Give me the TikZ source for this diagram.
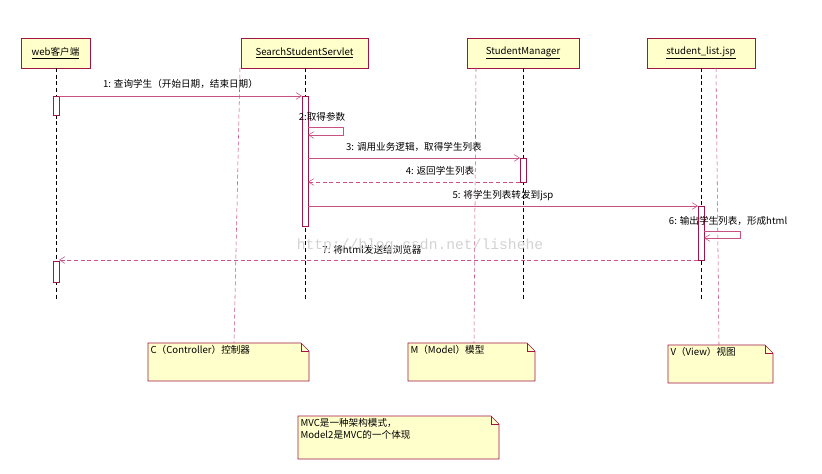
\documentclass[tikz,border=0pt]{standalone}
\usepackage{fontspec}
\setmainfont{Noto Sans CJK SC}
\newfontfamily\wmfont{Liberation Mono}
\usetikzlibrary{arrows.meta, shapes.misc}
\definecolor{umlred}{RGB}{160,20,70}
\definecolor{umlpink}{RGB}{200,80,130}
\definecolor{umlfill}{RGB}{255,255,204}

\begin{document}
\begin{tikzpicture}[x=0.75pt, y=-0.75pt, font=\fontsize{7.2}{9}\selectfont]
  \tikzset{
    obj/.style = {draw=umlred, fill=umlfill, minimum height=22.5pt, inner sep=0pt},
    act/.style = {draw=umlred, fill=white},
    msg/.style = {umlpink, -{Straight Barb[length=4pt, width=5pt]}},
    ret/.style = {msg, densely dashed},
    life/.style = {densely dashed, thin},
    link/.style = {umlpink, densely dashed, thin},
    note/.style = {draw=umlred, fill=umlfill}
  }
  \useasboundingbox (0, 0) rectangle (822, 474);

  % 对象
  \node[obj, minimum width=51.75pt] (web) at (55.5, 53) {\underline{web客户端}};
  \node[obj, minimum width=95.25pt] (servlet) at (304.5, 53) {\underline{SearchStudentServlet}};
  \node[obj, minimum width=84pt] (mgr) at (523, 53) {\underline{StudentManager}};
  \node[obj, minimum width=81pt] (jsp) at (701, 53) {\underline{student\_list.jsp}};

  % 生命线
  \draw[life] (56, 68) -- (56, 300);
  \draw[life] (305, 68) -- (305, 300);
  \draw[life] (523, 68) -- (523, 300);
  \draw[life] (701, 68) -- (701, 300);

  % 激活条
  \draw[act] (53, 96) rectangle (59, 115);
  \draw[act] (53, 261) rectangle (59, 282);
  \draw[act] (302, 96) rectangle (308, 226);
  \draw[act] (520, 158) rectangle (526, 182);
  \draw[act] (698, 206) rectangle (704, 260);

  % 消息
  \draw[msg] (59, 96) -- node[above=2pt, black] {1: 查询学生（开始日期，结束日期）} (302, 96);
  \draw[msg] (308, 127) -- (343, 127) -- (343, 135) -- (308, 135);
  \node[black] (m2) at (322, 117) {2:取得参数};
  \draw[msg] (308, 158) -- node[above=1pt, black] {3: 调用业务逻辑，取得学生列表} (520, 158);
  \draw[ret] (520, 182) -- (308, 182);
  \node[black] (m4) at (440, 171) {4: 返回学生列表};
  \draw[msg] (308, 206) -- (698, 206);
  \node[black] (m5) at (503, 196) {5: 将学生列表转发到jsp};
  \draw[msg] (704, 231) -- (740, 231) -- (740, 238) -- (704, 238);
  \node[black, anchor=east] (m6) at (792, 221) {6: 输出学生列表，形成html};
  \draw[ret] (698, 260) -- (59, 260);
  \node[black] (m7) at (372, 250) {7: 将html发送给浏览器};

  % 水印
  \node[gray!35, font=\wmfont\fontsize{11}{12}\selectfont] (wm) at (420, 246) {http://blog.csdn.net/lishehe};

  % 注释
  \draw[note] (148, 343) -- (301, 343) -- (309, 351) -- (309, 381) -- (148, 381) -- cycle;
  \draw[umlred] (301, 343) -- (301, 351) -- (309, 351);
  \node[anchor=north west, inner sep=1pt] (nc) at (149, 344) {C（Controller）控制器};
  \draw[note] (408, 343) -- (527, 343) -- (535, 351) -- (535, 381) -- (408, 381) -- cycle;
  \draw[umlred] (527, 343) -- (527, 351) -- (535, 351);
  \node[anchor=north west, inner sep=1pt] (nm) at (409, 344) {M（Model）模型};
  \draw[note] (668, 345) -- (765, 345) -- (773, 353) -- (773, 383) -- (668, 383) -- cycle;
  \draw[umlred] (765, 345) -- (765, 353) -- (773, 353);
  \node[anchor=north west, inner sep=1pt] (nv) at (669, 346) {V（View）视图};
  \draw[note] (298, 416) -- (491, 416) -- (499, 424) -- (499, 459) -- (298, 459) -- cycle;
  \draw[umlred] (491, 416) -- (491, 424) -- (499, 424);
  \node[anchor=north west, inner sep=1pt, align=left] (nmvc) at (299, 417) {MVC是一种架构模式，\\Model2是MVC的一个体现};

  % 注释连线
  \draw[link] (240, 68) -- (234, 343);
  \draw[link] (476, 68) -- (474, 343);
  \draw[link] (716, 68) -- (719, 345);
\end{tikzpicture}
\end{document}
